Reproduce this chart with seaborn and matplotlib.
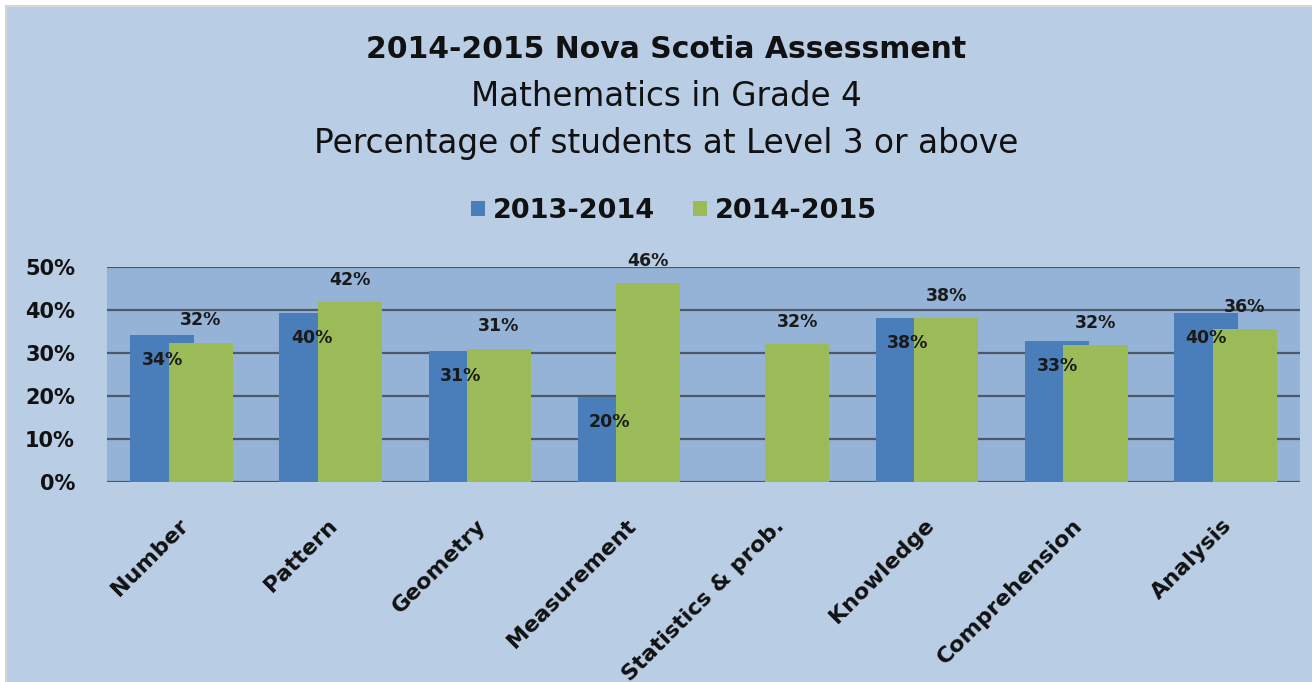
import matplotlib
matplotlib.use("Agg")
import matplotlib.pyplot as plt
from matplotlib.patches import Rectangle, Patch
import numpy as np
import pandas as pd
import seaborn as sns

categories = ["Number", "Pattern", "Geometry", "Measurement", "Statistics & prob.",
              "Knowledge", "Comprehension", "Analysis"]
series_names = ["2013-2014", "2014-2015"]
values_2013 = [34.2, 39.4, 30.5, 19.8, np.nan, 38.2, 32.9, 39.4]
values_2014 = [32.4, 41.9, 31.0, 46.2, 32.0, 38.2, 31.9, 35.6]
labels_2013 = ["34%", "40%", "31%", "20%", "", "38%", "33%", "40%"]
labels_2014 = ["32%", "42%", "31%", "46%", "32%", "38%", "32%", "36%"]
yticks = [0, 10, 20, 30, 40, 50]
ytick_labels = ["0%", "10%", "20%", "30%", "40%", "50%"]

title_lines = ["2014-2015 Nova Scotia Assessment",
               "Mathematics in Grade 4",
               "Percentage of students at Level 3 or above"]

blue = "#4a7ebb"
green = "#9bbb59"
outer_bg = "#b9cde5"
plot_bg = "#95b3d7"
grid_col = "#4d5968"

sns.set_style("white")
plt.rcParams["font.family"] = ["DejaVu Sans"]

W, H = 1312, 682
fig = plt.figure(figsize=(W / 100, H / 100), dpi=100, facecolor="white")
fig.patches.append(Rectangle((6 / W, -0.1), 1.2, (H - 6) / H + 0.1,
                             transform=fig.transFigure, facecolor=outer_bg,
                             edgecolor="#d6d6d6", lw=1.5, zorder=-10))

ax = fig.add_axes([107 / W, (H - 482) / H, (1300 - 107) / W, 215 / H])
ax.set_facecolor(plot_bg)

idx = np.arange(len(categories))
offset = 0.129
bar_w = 0.43
df_a = pd.DataFrame({"pos": idx - offset, "value": values_2013})
df_b = pd.DataFrame({"pos": idx + offset, "value": values_2014})

sns.barplot(data=df_a, x="pos", y="value", native_scale=True, width=bar_w,
            color=blue, saturation=1, errorbar=None, ax=ax, zorder=2,
            linewidth=0, edgecolor="none")
sns.barplot(data=df_b, x="pos", y="value", native_scale=True, width=bar_w,
            color=green, saturation=1, errorbar=None, ax=ax, zorder=3,
            linewidth=0, edgecolor="none")

for x, v, lab in zip(idx - offset, values_2013, labels_2013):
    if lab and not np.isnan(v):
        ax.annotate(lab, (x, v), xytext=(0, -18), textcoords="offset points",
                    ha="center", va="center", fontsize=12.5, fontweight="bold",
                    color="#1a1a1a", zorder=5)
for x, v, lab in zip(idx + offset, values_2014, labels_2014):
    if lab and not np.isnan(v):
        ax.annotate(lab, (x, v), xytext=(0, 16), textcoords="offset points",
                    ha="center", va="center", fontsize=12.5, fontweight="bold",
                    color="#1a1a1a", zorder=5, annotation_clip=False)

ax.set_xlim(-0.5, len(categories) - 0.5)
ax.set_ylim(0, 50)
ax.set_yticks(yticks)
ax.set_yticklabels(ytick_labels, fontsize=15, fontweight="bold", color="#111111")
ax.set_xticks(idx + 0.07)
ax.set_xticklabels(categories, fontsize=16, fontweight="bold", color="#111111",
                   rotation=45, ha="right", va="top")
ax.tick_params(axis="y", length=0, pad=23)
ax.tick_params(axis="x", length=0, pad=24)
ax.set_xlabel("")
ax.set_ylabel("")
ax.set_axisbelow(True)
ax.yaxis.grid(True, color=grid_col, lw=1.6)
ax.xaxis.grid(False)
for s in ax.spines.values():
    s.set_visible(False)

cx = 666 / W
fig.text(cx, 1 - 50 / H, title_lines[0], ha="center", va="center",
         fontsize=21.5, fontweight="bold", color="#111111")
fig.text(cx, 1 - 97 / H, title_lines[1], ha="center", va="center",
         fontsize=23.5, color="#111111")
fig.text(cx, 1 - 143 / H, title_lines[2], ha="center", va="center",
         fontsize=23.6, color="#111111")

handles = [Patch(facecolor=blue, edgecolor="none"),
           Patch(facecolor=green, edgecolor="none")]
leg = fig.legend(handles, series_names, loc="center",
                 bbox_to_anchor=(674 / W, 1 - 211 / H), ncol=2, frameon=False,
                 prop={"weight": "bold", "size": 19.5},
                 handlelength=0.5, handleheight=0.5, handletextpad=0.3,
                 columnspacing=1.4)
for t in leg.get_texts():
    t.set_color("#111111")

fig.savefig("out.png", dpi=100, facecolor="white")
